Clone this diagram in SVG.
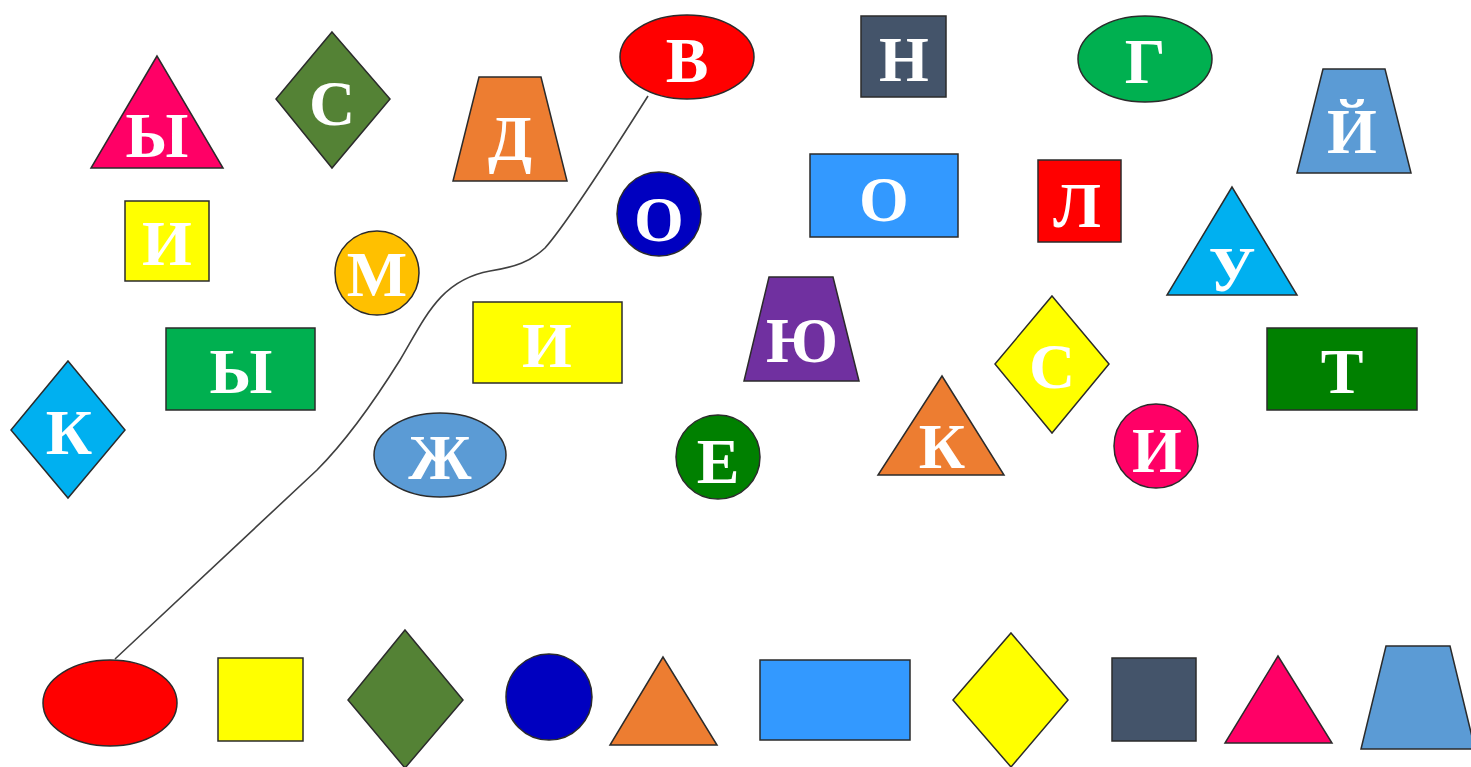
<svg xmlns="http://www.w3.org/2000/svg" width="1471" height="767" viewBox="0 0 1471 767">
<style>
.s{stroke:#2b2b2b;stroke-width:1.5}
.t{font-family:"Liberation Serif","Times New Roman",serif;font-weight:bold;font-size:64px;fill:#ffffff;text-anchor:middle}
.c{fill:none;stroke:#404040;stroke-width:1.6}
</style>
<rect width="1471" height="767" fill="#ffffff"/>
<g id="connectors">
<path class="c" d="M115,659 L317,470 C345,442 375,400 400,360 C425,318 440,280 490,271 C515,267 530,262 545,248 C570,220 620,140 648,96"/>
</g>
<g id="n_tri_y"><polygon class="s" fill="#FF0066" points="157,56 91,168 223,168"/><text class="t" x="157" y="157">Ы</text></g>
<g id="n_dia_s"><polygon class="s" fill="#548235" points="332,32 390,99 332,168 276,99"/><text class="t" x="332" y="125">С</text></g>
<g id="n_sq_i"><rect class="s" fill="#FFFF00" x="125" y="201" width="84" height="80"/><text class="t" x="167" y="265">И</text></g>
<g id="n_trap_d"><polygon class="s" fill="#ED7D31" points="479,77 541,77 567,181 453,181"/><text class="t" x="510" y="160">Д</text></g>
<g id="n_ell_v"><ellipse class="s" fill="#FF0000" cx="687" cy="57" rx="67" ry="42"/><text class="t" x="687" y="82">В</text></g>
<g id="n_sq_n"><rect class="s" fill="#44546A" x="861" y="16" width="85" height="81"/><text class="t" x="904" y="81">Н</text></g>
<g id="n_ell_g"><ellipse class="s" fill="#00B050" cx="1145" cy="59" rx="67" ry="43"/><text class="t" x="1145" y="83">Г</text></g>
<g id="n_trap_j"><polygon class="s" fill="#5B9BD5" points="1323,69 1385,69 1411,173 1297,173"/><text class="t" x="1352" y="153">Й</text></g>
<g id="n_circ_o"><circle class="s" fill="#0000C0" cx="659" cy="214" r="42"/><text class="t" x="659" y="241">О</text></g>
<g id="n_rect_o"><rect class="s" fill="#3399FF" x="810" y="154" width="148" height="83"/><text class="t" x="884" y="221">О</text></g>
<g id="n_sq_l"><rect class="s" fill="#FF0000" x="1038" y="160" width="83" height="82"/><text class="t" x="1077" y="227">Л</text></g>
<g id="n_tri_u"><polygon class="s" fill="#00B0F0" points="1232,187 1167,295 1297,295"/><text class="t" x="1232" y="291">У</text></g>
<g id="n_circ_m"><circle class="s" fill="#FFC000" cx="377" cy="273" r="42"/><text class="t" x="377" y="296">М</text></g>
<g id="n_rect_y"><rect class="s" fill="#00B050" x="166" y="328" width="149" height="82"/><text class="t" x="241" y="393">Ы</text></g>
<g id="n_rect_i"><rect class="s" fill="#FFFF00" x="473" y="302" width="149" height="81"/><text class="t" x="547" y="367">И</text></g>
<g id="n_trap_ju"><polygon class="s" fill="#7030A0" points="769,277 833,277 859,381 744,381"/><text class="t" x="802" y="362">Ю</text></g>
<g id="n_dia_s2"><polygon class="s" fill="#FFFF00" points="1052,296 1109,364 1052,433 995,364"/><text class="t" x="1052" y="388">С</text></g>
<g id="n_rect_t"><rect class="s" fill="#008000" x="1267" y="328" width="150" height="82"/><text class="t" x="1342" y="393">Т</text></g>
<g id="n_dia_k"><polygon class="s" fill="#00B0F0" points="68,361 125,430 68,498 11,430"/><text class="t" x="69" y="454">К</text></g>
<g id="n_ell_zh"><ellipse class="s" fill="#5B9BD5" cx="440" cy="455" rx="66" ry="42"/><text class="t" x="440" y="479">Ж</text></g>
<g id="n_circ_e"><circle class="s" fill="#008000" cx="718" cy="457" r="42"/><text class="t" x="718" y="483">Е</text></g>
<g id="n_tri_k"><polygon class="s" fill="#ED7D31" points="942,376 878,475 1004,475"/><text class="t" x="942" y="468">К</text></g>
<g id="n_circ_i"><circle class="s" fill="#FF0066" cx="1156" cy="446" r="42"/><text class="t" x="1157" y="472">И</text></g>
<g id="b_ell"><ellipse class="s" fill="#FF0000" cx="110" cy="703" rx="67" ry="43"/></g>
<g id="b_sq_y"><rect class="s" fill="#FFFF00" x="218" y="658" width="85" height="83"/></g>
<g id="b_dia_g"><polygon class="s" fill="#548235" points="405,630 463,700 405,768 348,700"/></g>
<g id="b_circ"><circle class="s" fill="#0000C0" cx="549" cy="697" r="43"/></g>
<g id="b_tri_o"><polygon class="s" fill="#ED7D31" points="663,657 610,745 717,745"/></g>
<g id="b_rect"><rect class="s" fill="#3399FF" x="760" y="660" width="150" height="80"/></g>
<g id="b_dia_y"><polygon class="s" fill="#FFFF00" points="1011,633 1068,700 1011,767 953,700"/></g>
<g id="b_sq_n"><rect class="s" fill="#44546A" x="1112" y="658" width="84" height="83"/></g>
<g id="b_tri_p"><polygon class="s" fill="#FF0066" points="1278,656 1225,743 1332,743"/></g>
<g id="b_trap"><polygon class="s" fill="#5B9BD5" points="1386,646 1450,646 1475,749 1361,749"/></g>
</svg>
